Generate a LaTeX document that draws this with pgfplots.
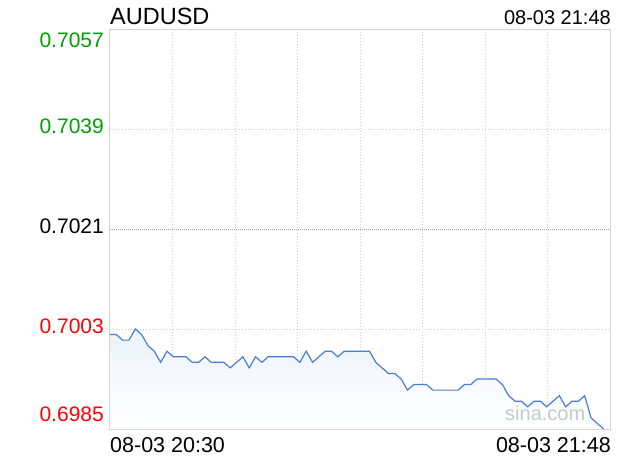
\documentclass[border=0pt]{standalone}
\usepackage{fontspec}
\setmainfont{Liberation Sans}
\usepackage{pgfplots}
\pgfplotsset{compat=1.18}

\definecolor{lineblue}{RGB}{74,126,212}
\definecolor{fillblue}{RGB}{236,242,252}
\definecolor{gridgray}{RGB}{208,208,208}
\definecolor{midgray}{RGB}{160,160,160}
\definecolor{bordergray}{RGB}{212,212,212}
\definecolor{upgreen}{RGB}{0,160,0}
\definecolor{downred}{RGB}{255,0,0}
\definecolor{wmgray}{RGB}{200,200,200}

% minutes after 20:30, price
\pgfplotstableread{
t price
0 0.7002
1 0.7002
2 0.7001
3 0.7001
4 0.7003
5 0.7002
6 0.7000
7 0.6999
8 0.6997
9 0.6999
10 0.6998
11 0.6998
12 0.6998
13 0.6997
14 0.6997
15 0.6998
16 0.6997
17 0.6997
18 0.6997
19 0.6996
20 0.6997
21 0.6998
22 0.6996
23 0.6998
24 0.6997
25 0.6998
26 0.6998
27 0.6998
28 0.6998
29 0.6998
30 0.6997
31 0.6999
32 0.6997
33 0.6998
34 0.6999
35 0.6999
36 0.6998
37 0.6999
38 0.6999
39 0.6999
40 0.6999
41 0.6999
42 0.6997
43 0.6996
44 0.6995
45 0.6995
46 0.6994
47 0.6992
48 0.6993
49 0.6993
50 0.6993
51 0.6992
52 0.6992
53 0.6992
54 0.6992
55 0.6992
56 0.6993
57 0.6993
58 0.6994
59 0.6994
60 0.6994
61 0.6994
62 0.6993
63 0.6991
64 0.6990
65 0.6990
66 0.6989
67 0.6990
68 0.6990
69 0.6989
70 0.6990
71 0.6991
72 0.6989
73 0.6990
74 0.6990
75 0.6991
76 0.6987
77 0.6986
78 0.6985
}\pricedata

\begin{document}
\begin{tikzpicture}
\useasboundingbox (-110bp,-31bp) rectangle (510bp,429bp);
\begin{axis}[
    at={(0,0)}, anchor=south west,
    width=500bp, height=400bp, scale only axis,
    xmin=0, xmax=79,
    ymin=0.6985, ymax=0.7057,
    xtick={9.875,19.75,29.625,39.5,49.375,59.25,69.125},
    ytick={0.7003,0.7039},
    xticklabels={}, yticklabels={},
    extra y ticks={0.7021}, extra y tick labels={},
    extra y tick style={grid style={midgray, line width=0.8bp, dash pattern=on 1bp off 1bp}},
    major tick length=0pt,
    grid=major,
    grid style={gridgray, line width=0.8bp, dash pattern=on 1bp off 2bp},
    axis line style={bordergray, line width=1bp},
    clip=false,
    font=\fontsize{21bp}{25bp}\selectfont,
]
    \addplot[draw=none, top color=fillblue, bottom color=white]
        table[x=t, y=price] {\pricedata}
        -- (axis cs:78,0.6985) -- (axis cs:0,0.6985) -- cycle;

    % watermark
    \node[anchor=base west, inner sep=0, text=wmgray, font=\fontsize{20bp}{24bp}\selectfont]
        at ([xshift=395bp, yshift=9bp]axis description cs:0,0) {sina.com};

    \addplot[lineblue, line width=1.2bp, mark=none] table[x=t, y=price] {\pricedata};

    % price labels on the left
    \node[anchor=base east, inner sep=0, text=upgreen]
        at ([xshift=-6bp, yshift=-18bp]axis cs:0,0.7057) {0.7057};
    \node[anchor=base east, inner sep=0, text=upgreen]
        at ([xshift=-6bp, yshift=-4.5bp]axis cs:0,0.7039) {0.7039};
    \node[anchor=base east, inner sep=0, text=black]
        at ([xshift=-6bp, yshift=-4.5bp]axis cs:0,0.7021) {0.7021};
    \node[anchor=base east, inner sep=0, text=downred]
        at ([xshift=-6bp, yshift=-4.5bp]axis cs:0,0.7003) {0.7003};
    \node[anchor=base east, inner sep=0, text=downred]
        at ([xshift=-6bp, yshift=8bp]axis cs:0,0.6985) {0.6985};

    % time labels
    \node[anchor=base west, inner sep=0, font=\fontsize{21.5bp}{25bp}\selectfont]
        at ([yshift=-23bp]axis description cs:0,0) {08-03 20:30};
    \node[anchor=base east, inner sep=0, font=\fontsize{21.5bp}{25bp}\selectfont]
        at ([xshift=1bp, yshift=-23bp]axis description cs:1,0) {08-03 21:48};

    % header
    \node[anchor=base west, inner sep=0, font=\fontsize{23.5bp}{27bp}\selectfont]
        at ([yshift=5bp]axis description cs:0,1) {AUDUSD};
    \node[anchor=base east, inner sep=0, font=\fontsize{20bp}{24bp}\selectfont]
        at ([xshift=1bp, yshift=5bp]axis description cs:1,1) {08-03 21:48};
\end{axis}
\end{tikzpicture}
\end{document}
